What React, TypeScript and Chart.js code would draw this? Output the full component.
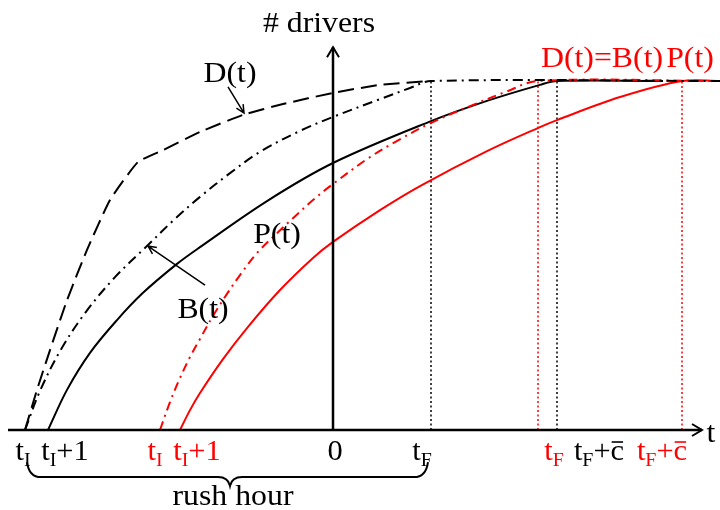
import { useEffect, useRef } from 'react';
import { Chart, registerables } from 'chart.js';
Chart.register(...registerables);

// ---- data (t in schematic units, 0 = y axis; number of drivers, plateau = 100) ----
const dT = [-30.8, -29.6, -28.3, -26.6, -24.6, -22.3, -19.5, -17.0, -13.3, -9.0, -5.0, 0, 4.7, 9.8];
const dN = [0, 11.5, 22.9, 37.2, 51.6, 65.9, 76.8, 80.2, 85.4, 90.3, 93.4, 96.6, 98.9, 100];

const bT = [-30.8, -29.3, -27.3, -24.8, -21.8, -18.5, -15.8, -13.3, -10.3, -7.3, -3.3, 0, 4.7, 7.7, 9.8, 38.7];
const bN = [0, 11.2, 22.6, 33.5, 43.8, 53.0, 60.5, 66.8, 73.6, 79.7, 85.7, 89.7, 94.8, 97.99, 100, 100];

const pT = [-28.5, -26.6, -24.3, -21.6, -19.0, -15.6, -13.3, -6.6, 0, 9.8, 15.4, 20.7, 22.4, 33.0];
const pN = [0, 11.5, 22.1, 31.5, 39.3, 47.6, 52.4, 65.6, 76.5, 88.5, 94.3, 98.9, 100, 100];

const bRedT = [-17.3, -16.3, -15.3, -14.3, -13.3, -12.0, -10.6, -9.3, -7.6, -5.6, -4.0, -2.0, 0, 3.5, 6.2, 9.8, 13.7, 17.2, 20.5, 38.7];
const bRedN = [0, 8.0, 14.9, 20.9, 26.1, 32.7, 39.0, 44.4, 50.7, 56.4, 60.7, 65.9, 70.5, 77.8, 82.5, 88.0, 92.8, 96.8, 100, 100];

const pRedT = [-15.3, -14.3, -13.3, -11.0, -8.6, -5.3, -2.0, 0, 4.7, 8.7, 15.4, 20.7, 22.4, 28.7, 34.9, 38.7];
const pRedN = [0, 5.7, 10.6, 20.3, 29.2, 40.1, 49.3, 53.9, 63.0, 69.9, 79.9, 86.8, 88.8, 95.4, 100, 100];

// vertical guide times
const guideT = [9.8, 20.5, 22.4, 34.9];
const guideColors = ['#000', '#ff0000', '#000', '#ff0000'];
const plateau = 100;

// tick labels on the t axis
const tickLabelT = [-31.0, -26.8, -17.8, -13.6, 0.2, 8.9, 22.1, 26.6, 32.9];
const tickMain = ['t', 't', 't', 't', '0', 't', 't', 't', 't'];
const tickSub = ['I', 'I', 'I', 'I', '', 'F', 'F', 'F', 'F'];
const tickRest = ['', '+1', '', '+1', '', '', '', '+c', '+c'];
const tickBar = [false, false, false, false, false, false, false, true, true];
const tickColor = ['#000', '#000', '#ff0000', '#ff0000', '#000', '#000', '#ff0000', '#000', '#ff0000'];

const RED = '#ff0000';
const FONT = '"Liberation Serif", "Times New Roman", serif';

const zip = (a: number[], b: number[]) => a.map((v, i) => ({ x: v, y: b[i] }));

const annotPlugin = {
  id: 'annot',
  afterDatasetsDraw(chart: any) {
    const { ctx } = chart;
    const xs = chart.scales.x;
    const ys = chart.scales.y;
    const X = (v: number) => xs.getPixelForValue(v);
    const Y = (v: number) => ys.getPixelForValue(v);
    ctx.save();
    ctx.strokeStyle = '#000';
    ctx.fillStyle = '#000';
    ctx.lineCap = 'butt';

    // axes
    ctx.lineWidth = 2.5;
    ctx.beginPath();
    ctx.moveTo(X(-32.5), Y(0));
    ctx.lineTo(X(36.9), Y(0));
    ctx.moveTo(X(0), Y(0));
    ctx.lineTo(X(0), Y(109.7));
    ctx.stroke();
    const xt = X(36.9), yt = Y(0);
    ctx.lineWidth = 2;
    ctx.beginPath();
    ctx.moveTo(xt - 10, yt - 6);
    ctx.lineTo(xt, yt);
    ctx.lineTo(xt - 10, yt + 6);
    const ax = X(0), ay = Y(109.7);
    ctx.moveTo(ax - 6, ay + 10);
    ctx.lineTo(ax, ay);
    ctx.lineTo(ax + 6, ay + 10);
    ctx.stroke();

    // label arrows
    const arrow = (x1: number, y1: number, x2: number, y2: number) => {
      const px1 = X(x1), py1 = Y(y1), px2 = X(x2), py2 = Y(y2);
      ctx.lineWidth = 1.5;
      ctx.beginPath();
      ctx.moveTo(px1, py1);
      ctx.lineTo(px2, py2);
      const a = Math.atan2(py2 - py1, px2 - px1);
      const h = 9;
      ctx.moveTo(px2 - h * Math.cos(a - 0.45), py2 - h * Math.sin(a - 0.45));
      ctx.lineTo(px2, py2);
      ctx.lineTo(px2 - h * Math.cos(a + 0.45), py2 - h * Math.sin(a + 0.45));
      ctx.stroke();
    };
    arrow(-10.5, 98.3, -8.9, 90.8);
    arrow(-12.8, 41.5, -18.5, 52.7);

    // text
    ctx.textBaseline = 'alphabetic';
    ctx.textAlign = 'left';
    const centered = (txt: string, xv: number, yv: number, color: string, size = 30, sx = 1.06) => {
      ctx.font = `${size}px ${FONT}`;
      ctx.fillStyle = color;
      const w = ctx.measureText(txt).width;
      ctx.save();
      ctx.translate(X(xv), Y(yv));
      ctx.scale(sx, 1);
      ctx.fillText(txt, -w / 2, 0);
      ctx.restore();
    };
    centered('# drivers', -1.4, 114.0, '#000');
    centered('D(t)', -10.3, 99.7, '#000');
    centered('B(t)', -13.0, 32.1, '#000');
    centered('P(t)', -5.6, 53.6, '#000');
    centered('D(t)=B(t)', 26.9, 104.0, RED);
    centered('P(t)', 35.7, 104.0, RED);
    centered('rush hour', -10.0, -21.5, '#000');
    centered('t', 37.8, -3.4, '#000');

    // tick labels with subscripts
    const mainSize = 29, subSize = 19, sx = 1.05;
    tickLabelT.forEach((tv, i) => {
      ctx.font = `${mainSize}px ${FONT}`;
      const wm = ctx.measureText(tickMain[i]).width;
      const wr = ctx.measureText(tickRest[i]).width;
      ctx.font = `${subSize}px ${FONT}`;
      const ws = ctx.measureText(tickSub[i]).width;
      const total = (wm + ws + wr) * sx;
      const base = Y(-8.6);
      ctx.save();
      ctx.translate(X(tv) - total / 2, base);
      ctx.scale(sx, 1);
      let x0 = 0;
      ctx.fillStyle = tickColor[i];
      ctx.strokeStyle = tickColor[i];
      ctx.font = `${mainSize}px ${FONT}`;
      ctx.fillText(tickMain[i], x0, 0);
      x0 += wm;
      ctx.font = `${subSize}px ${FONT}`;
      ctx.fillText(tickSub[i], x0, 6);
      x0 += ws;
      ctx.font = `${mainSize}px ${FONT}`;
      ctx.fillText(tickRest[i], x0, 0);
      if (tickBar[i]) {
        const wc = ctx.measureText('c').width;
        const xc = x0 + wr - wc;
        ctx.lineWidth = 1.6;
        ctx.beginPath();
        ctx.moveTo(xc + 1, -18);
        ctx.lineTo(xc + wc - 1, -18);
        ctx.stroke();
      }
      ctx.restore();
    });

    // brace under rush hour
    ctx.strokeStyle = '#000';
    ctx.lineWidth = 2;
    const L = X(-30.6), R = X(9.5), C = X(-10.3);
    const top = Y(-9.2), mid = Y(-13.5), cusp = Y(-16.0);
    ctx.beginPath();
    ctx.moveTo(L, top);
    ctx.quadraticCurveTo(L + 2, mid, L + 14, mid);
    ctx.lineTo(C - 12, mid);
    ctx.quadraticCurveTo(C - 2, mid, C, cusp);
    ctx.quadraticCurveTo(C + 2, mid, C + 12, mid);
    ctx.lineTo(R - 14, mid);
    ctx.quadraticCurveTo(R - 2, mid, R, top);
    ctx.stroke();

    ctx.restore();
  },
};

export default function App() {
  const ref = useRef<HTMLCanvasElement | null>(null);
  useEffect(() => {
    if (!ref.current) return;
    const guides = guideT.map((t, i) => ({
      data: [{ x: t, y: 0 }, { x: t, y: plateau }],
      borderColor: guideColors[i],
      borderWidth: 1.5,
      borderDash: [2, 2.5],
      tension: 0,
      order: 10,
    }));
    const smooth = { tension: 0.35, cubicInterpolationMode: 'default' };
    const chart = new Chart(ref.current, {
      type: 'scatter',
      data: {
        datasets: [
          ...guides,
          { label: 'D(t)', data: zip(dT, dN), borderColor: '#000', borderWidth: 2, borderDash: [16, 7], tension: 0.15, order: 5 },
          { label: 'P(t) red', data: zip(pRedT, pRedN), borderColor: RED, borderWidth: 2, ...smooth, order: 4 },
          { label: 'P(t)', data: zip(pT, pN), borderColor: '#000', borderWidth: 2, ...smooth, order: 3 },
          { label: 'B(t) red', data: zip(bRedT, bRedN), borderColor: RED, borderWidth: 2, borderDash: [9, 5, 2, 5], ...smooth, order: 2 },
          { label: 'B(t)', data: zip(bT, bN), borderColor: '#000', borderWidth: 2, borderDash: [10, 5, 2, 5], ...smooth, order: 1 },
        ] as any,
      },
      options: {
        animation: false,
        responsive: false,
        showLine: true,
        layout: { padding: 0 },
        elements: { point: { radius: 0, hoverRadius: 0 }, line: { fill: false } },
        scales: {
          x: { type: 'linear', min: -33.3, max: 38.7, display: false },
          y: { type: 'linear', min: -22.92, max: 123.21, display: false },
        },
        plugins: { legend: { display: false }, tooltip: { enabled: false } },
      } as any,
      plugins: [annotPlugin],
    });
    return () => chart.destroy();
  }, []);
  return (
    <div style={{ position: 'absolute', left: 0, top: 0, width: 720, height: 510, background: '#fff' }}>
      <canvas ref={ref} width={720} height={510} />
    </div>
  );
}
